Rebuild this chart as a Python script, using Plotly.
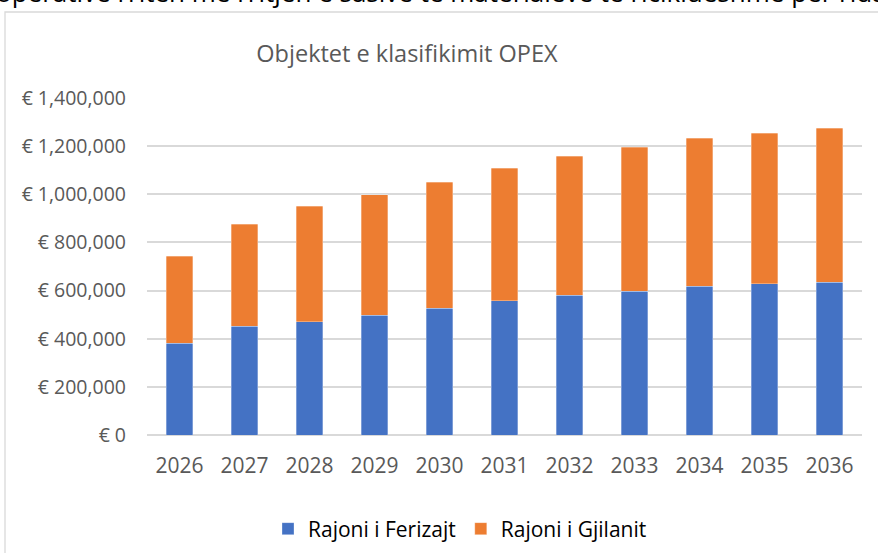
import plotly.graph_objects as go

years = ["2026", "2027", "2028", "2029", "2030", "2031", "2032", "2033", "2034", "2035", "2036"]
ferizaj = [382000, 451000, 470000, 498000, 526000, 558000, 580000, 598000, 617000, 628000, 635000]
gjilan = [361000, 424000, 480000, 501000, 524000, 550000, 578000, 597000, 616000, 625000, 639000]
series_names = ["Rajoni i Ferizajt", "Rajoni i Gjilanit"]
y_ticks = [0, 200000, 400000, 600000, 800000, 1000000, 1200000, 1400000]
y_tick_labels = ["€ 0", "€ 200,000", "€ 400,000", "€ 600,000", "€ 800,000",
                 "€ 1,000,000", "€ 1,200,000", "€ 1,400,000"]
title_text = "Objektet e klasifikimit OPEX"
top_text = "operative rriten me rritjen e sasive te materialeve te riciklueshme per ridaktimin"

W, H = 878, 553
L, R, T, B = 147, 16, 98, 118
pw = W - L - R
ph = H - T - B

def px_x(x):
    return (x - L) / pw

def px_y(y):
    return (H - B - y) / ph

FONT = "Open Sans"
GRAY = "#595959"

fig = go.Figure()
fig.add_trace(go.Bar(x=years, y=ferizaj, name=series_names[0],
                     marker=dict(color="#4472C4", line=dict(color="rgba(255,255,255,0.5)", width=0.6))))
fig.add_trace(go.Bar(x=years, y=gjilan, name=series_names[1],
                     marker=dict(color="#ED7D31", line=dict(color="rgba(255,255,255,0.5)", width=0.6))))

fig.update_layout(
    width=W, height=H,
    margin=dict(l=L, r=R, t=T, b=B, autoexpand=False),
    barmode="stack",
    bargap=0.595,
    paper_bgcolor="white",
    plot_bgcolor="white",
    font=dict(family=FONT, color=GRAY),
    title=dict(text=title_text, x=px_x(407), xref="paper", xanchor="center",
               y=1 - 54 / H, yref="container", yanchor="middle",
               font=dict(family=FONT, size=23.5, color=GRAY)),
    showlegend=True,
    legend=dict(orientation="h", x=px_x(460), xanchor="center",
                y=px_y(529), yanchor="middle",
                font=dict(family=FONT, size=21, color="#000000"),
                itemwidth=30, traceorder="normal", bgcolor="rgba(0,0,0,0)"),
    xaxis=dict(showgrid=False, showline=False, ticks="",
               tickfont=dict(family=FONT, size=21, color=GRAY),
               ticklabelstandoff=16),
    yaxis=dict(range=[0, 1400000], tickvals=y_ticks, ticktext=y_tick_labels,
               showgrid=True, gridcolor="#d9d9d9", gridwidth=1.5,
               zeroline=True, zerolinecolor="#d9d9d9", zerolinewidth=1.5,
               showline=False, ticks="",
               tickfont=dict(family=FONT, size=19.5, color=GRAY),
               ticklabelstandoff=20),
    shapes=[
        dict(type="path", xref="paper", yref="paper",
             path=f"M {px_x(880)} {px_y(12)} L {px_x(5)} {px_y(12)} L {px_x(5)} {px_y(560)}",
             line=dict(color="#d9d9d9", width=1.3), layer="below"),
    ],
    annotations=[
        dict(text=top_text, xref="paper", yref="paper", x=px_x(-6), y=px_y(12),
             xanchor="left", yanchor="bottom", showarrow=False,
             font=dict(family=FONT, size=26, color="#000000")),
    ],
)

fig.write_html("out.html", config={"displayModeBar": False},
               post_script="document.body.style.margin='0';document.body.style.overflow='hidden';")
